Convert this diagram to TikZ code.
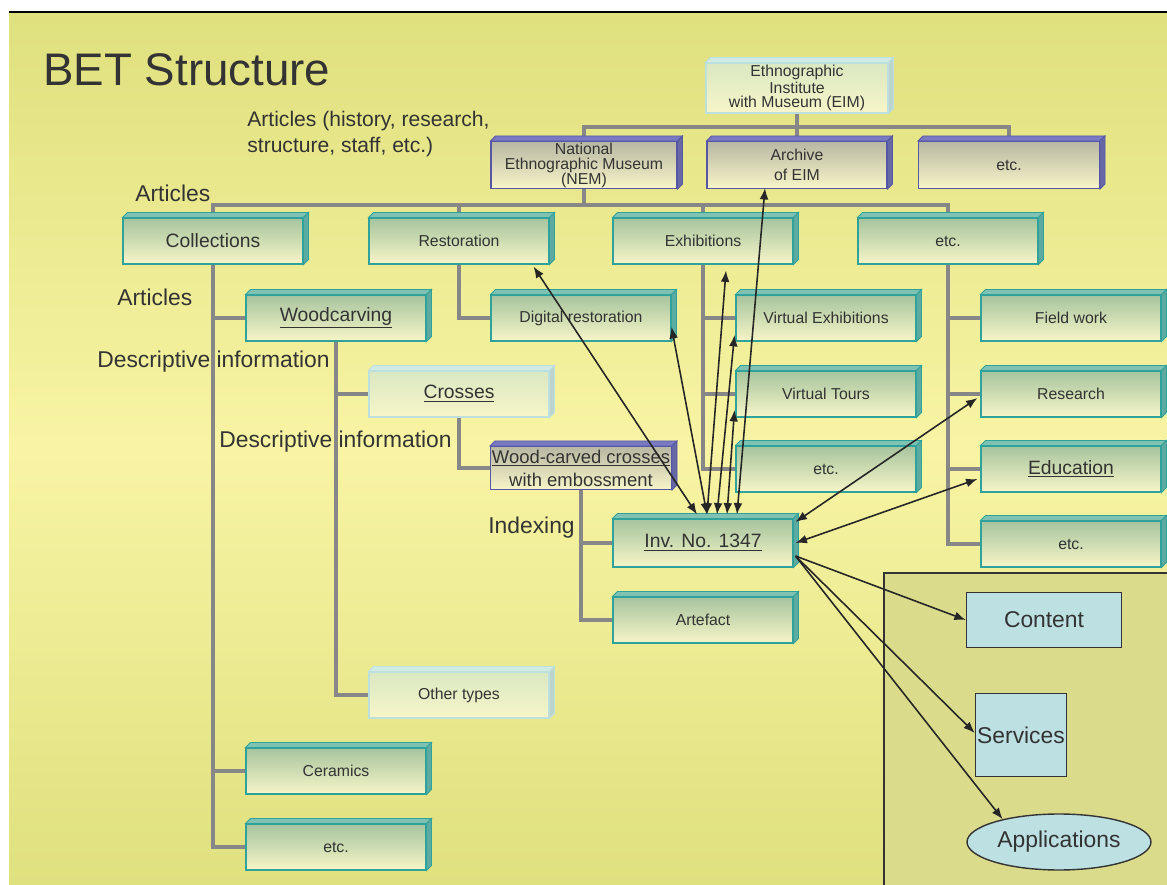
\documentclass[tikz,border=0pt]{standalone}
\usepackage{fontspec}
\setmainfont{Liberation Sans}
\usetikzlibrary{arrows.meta,calc,shapes.geometric}

\definecolor{bgtop}{HTML}{DFE07E}
\definecolor{bgmid}{HTML}{F8F4A4}
\definecolor{panelfill}{HTML}{DADB8B}
\definecolor{ink}{HTML}{333333}
\definecolor{trunkgray}{HTML}{878787}
\definecolor{tealedge}{HTML}{2FA39B}
\definecolor{tealtop}{HTML}{A6C49E}
\definecolor{tealface}{HTML}{7FC2B2}
\definecolor{tealside}{HTML}{5DAAA0}
\definecolor{boxlow}{HTML}{F7F5C8}
\definecolor{purpleedge}{HTML}{5656A6}
\definecolor{purpletop}{HTML}{B8B7A3}
\definecolor{purpleface}{HTML}{7A7AC2}
\definecolor{lightedge}{HTML}{BCE0DE}
\definecolor{lighttop}{HTML}{DAE8C2}
\definecolor{lightface}{HTML}{D2EAE4}
\definecolor{bluefill}{HTML}{BDE0E3}

\tikzset{
  cell/.style={inner sep=0pt, align=center, text=ink, bottom color=boxlow, line width=0.6pt,
    minimum width=3.6cm, minimum height=0.92cm, font=\fontsize{9}{10}\selectfont},
  tealbox/.style={cell, draw=tealedge, top color=tealtop},
  purplebox/.style={cell, draw=purpleedge, top color=purpletop},
  lightbox/.style={cell, draw=lightedge, top color=lighttop},
  bigtext/.style={font=\fontsize{11}{13}\selectfont},
  note/.style={text=ink, inner sep=0pt, anchor=west, font=\fontsize{13}{15}\selectfont},
  trunk/.style={draw=trunkgray, line width=2.7pt},
  link/.style={black!85, line width=0.9pt, -{Latex[length=6.5pt,width=5pt]}},
  twoway/.style={link, {Latex[length=6.5pt,width=5pt]}-{Latex[length=6.5pt,width=5pt]}},
  goal/.style={draw=ink, fill=bluefill, line width=0.8pt, text=ink, inner sep=0pt,
    font=\fontsize{13}{15}\selectfont}
}

\begin{document}
\begin{tikzpicture}[x=0.02cm, y=-0.02cm]
\useasboundingbox (0,0) rectangle (1167,885);

%draw background
\shade[top color=bgtop, bottom color=bgtop, middle color=bgmid] (9,12) rectangle (1167,885);
\draw[line width=1pt] (9,12) -- (1167,12);

%draw panel
\fill[panelfill] (884,573) rectangle (1167,885);
\draw[ink, line width=0.8pt] (884,885) -- (884,573) -- (1167,573);

%title and side texts
\node[note, font=\fontsize{26}{30}\selectfont] (title) at (43,70) {BET Structure};
\node[note, align=left, font=\fontsize{12}{15.3}\selectfont] (hist) at (247,134) {Articles (history, research,\\structure, staff, etc.)};
\node[note] (art1) at (135,193) {Articles};
\node[note] (art2) at (117,297) {Articles};
\node[note] (desc1) at (97,362) {Descriptive information};
\node[note] (desc2) at (219,442) {Descriptive information};
\node[note] (idx) at (488,528) {Indexing};

%institute level
\node[lightbox, minimum width=3.64cm, minimum height=1cm, font=\fontsize{9}{8.2}\selectfont] (eim) at (797,88) {Ethnographic\\Institute\\with Museum (EIM)};
\node[purplebox, minimum width=3.72cm, minimum height=0.94cm, font=\fontsize{9}{8.5}\selectfont] (nem) at (584,165) {National\\Ethnographic Museum\\(NEM)};
\node[purplebox, minimum height=0.94cm, font=\fontsize{9}{11}\selectfont] (arch) at (797,165) {Archive\\of EIM};
\node[purplebox, minimum width=3.62cm, minimum height=0.94cm] (etc2) at (1009,165) {etc.};

%museum level
\node[tealbox, bigtext] (coll) at (213,241) {Collections};
\node[tealbox] (rest) at (459,241) {Restoration};
\node[tealbox] (exh) at (703,241) {Exhibitions};
\node[tealbox] (etcb) at (948,241) {etc.};

\node[tealbox, bigtext] (wood) at (336,318) {\underline{Woodcarving}};
\node[tealbox] (dig) at (581,318) {Digital restoration};
\node[tealbox] (vex) at (826,318) {Virtual Exhibitions};
\node[tealbox] (field) at (1071,318) {Field work};

\node[lightbox, bigtext] (cross) at (459,394) {\underline{Crosses}};
\node[tealbox] (vt) at (826,394) {Virtual Tours};
\node[tealbox] (res) at (1071,394) {Research};

\node[purplebox, minimum width=3.62cm, minimum height=0.86cm, font=\fontsize{10.5}{13}\selectfont] (wcc) at (581,468) {\underline{Wood-carved crosses}\\with embossment};
\node[tealbox] (etce) at (826,469) {etc.};
\node[tealbox, bigtext] (edu) at (1071,469) {\underline{Education}};

\node[tealbox, bigtext, minimum height=0.96cm] (inv) at (703,543) {\underline{Inv. No. 1347}};
\node[tealbox] (etcr) at (1071,544) {etc.};
\node[tealbox] (art) at (703,620) {Artefact};
\node[lightbox] (other) at (459,695) {Other types};
\node[tealbox] (cer) at (336,771) {Ceramics};
\node[tealbox] (etcl) at (336,847) {etc.};

%bottom right panel
\node[goal, minimum width=3.1cm, minimum height=1.1cm] (content) at (1044,620) {Content};
\node[goal, minimum width=1.82cm, minimum height=1.66cm] (serv) at (1021,735) {Services};
\node[goal, ellipse, minimum width=3.68cm, minimum height=1.12cm] (appl) at (1059,842) {Applications};

%draw gray tree lines
\coordinate (bar1) at (0,127);
\coordinate (bar2) at (0,205);
\draw[trunk] (eim.south) -- (arch.north);
\draw[trunk] (nem.north) -- (nem.north |- bar1) -- (etc2.north |- bar1) -- (etc2.north);
\draw[trunk] (nem.south) -- (nem.south |- bar2);
\draw[trunk] (coll.north) -- (coll.north |- bar2) -- (etcb.north |- bar2) -- (etcb.north);
\foreach \n in {rest,exh}
\draw[trunk] (\n.north) -- (\n.north |- bar2);

\foreach \p/\c in {coll/wood,coll/cer,coll/etcl,wood/cross,wood/other,cross/wcc,wcc/inv,wcc/art,
  rest/dig,exh/vex,exh/vt,exh/etce,etcb/field,etcb/res,etcb/edu,etcb/etcr}
\draw[trunk] (\p.south) |- (\c.west);

%draw the bevels
\foreach \n in {coll,rest,exh,etcb,wood,dig,vex,field,vt,res,etce,edu,inv,etcr,art,cer,etcl}{
\filldraw[draw=tealedge, fill=tealface, line width=0.5pt] (\n.north west) -- ++(5,-5) -- ([shift={(5,-5)}]\n.north east) -- (\n.north east) -- cycle;
\filldraw[draw=tealedge, fill=tealside, line width=0.5pt] (\n.north east) -- ++(5,-5) -- ([shift={(5,-5)}]\n.south east) -- (\n.south east) -- cycle;
}
\foreach \n in {nem,arch,etc2,wcc}{
\filldraw[draw=purpleedge, fill=purpleface, line width=0.5pt] (\n.north west) -- ++(5,-5) -- ([shift={(5,-5)}]\n.north east) -- (\n.north east) -- cycle;
\filldraw[draw=purpleedge, fill=purpleface!85!black, line width=0.5pt] (\n.north east) -- ++(5,-5) -- ([shift={(5,-5)}]\n.south east) -- (\n.south east) -- cycle;
}
\foreach \n in {eim,cross,other}{
\filldraw[draw=lightedge, fill=lightface, line width=0.5pt] (\n.north west) -- ++(5,-5) -- ([shift={(5,-5)}]\n.north east) -- (\n.north east) -- cycle;
\filldraw[draw=lightedge, fill=lightface!90!black, line width=0.5pt] (\n.north east) -- ++(5,-5) -- ([shift={(5,-5)}]\n.south east) -- (\n.south east) -- cycle;
}

%arrows from the record
\foreach \i/\dx in {1/-6,2/4,3/14,4/24,5/34}
\coordinate (top\i) at ($(inv.north)+(\dx,-4)$);
\draw[twoway] (top1) -- ($(rest.south east)+(-16,2)$);
\draw[twoway] (top2) -- ($(dig.east)+(0,9)$);
\draw[twoway] (top2) -- ($(exh.south)+(23,6)$);
\draw[twoway] (top3) -- ($(vex.west)+(-1,17)$);
\draw[twoway] (top4) -- ($(vt.west)+(-1,16)$);
\draw[twoway] (top5) -- ($(arch.south)+(-32,-1)$);
\draw[twoway] ($(inv.east)+(2,-21)$) -- ($(res.west)+(-3,4)$);
\draw[twoway] ($(inv.east)+(2,0)$) -- ($(edu.west)+(-3,10)$);
\coordinate (out) at ($(inv.east)+(2,13)$);
\draw[link] (out) -- (content.west);
\draw[link] (out) -- ($(serv.west)+(0,-2)$);
\draw[link] (out) -- (appl.158);
\end{tikzpicture}
\end{document}
